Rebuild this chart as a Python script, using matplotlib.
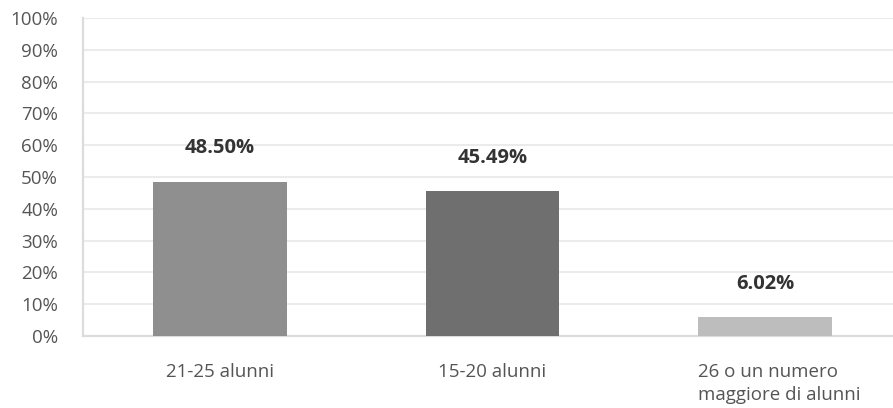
import matplotlib.pyplot as plt
from matplotlib.ticker import PercentFormatter
from matplotlib.transforms import blended_transform_factory

# ---------- Data ----------
categories = ["21-25 alunni", "15-20 alunni", "26 o un numero\nmaggiore di alunni"]
values = [48.50, 45.49, 6.02]
bar_colors = ["#8f8f8f", "#6f6f6f", "#bdbdbd"]
y_ticks = list(range(0, 101, 10))

BAR_WIDTH = 0.49

plt.rcParams["font.family"] = ["Open Sans", "DejaVu Sans"]

fig = plt.figure(figsize=(8.93, 4.08), dpi=100)
ax = fig.add_axes([83 / 893, (408 - 336) / 408, (893 - 83) / 893, (336 - 18) / 408])

x = list(range(len(categories)))
ax.bar(x, values, width=BAR_WIDTH, color=bar_colors, zorder=3)

# value labels sit a fixed distance above each bar
for xi, v in zip(x, values):
    ax.annotate(f"{v:.2f}%", (xi, v), xytext=(0, 24), textcoords="offset points",
                ha="center", va="center", fontsize=14.5, fontweight="bold",
                color="#333333")

ax.set_ylim(0, 100)
ax.set_xlim(-0.503, 2.47)
ax.set_yticks(y_ticks)
ax.yaxis.set_major_formatter(PercentFormatter(decimals=0))
ax.set_xticks(x)
ax.set_xticklabels([])

# category names: single-line ones centred, the long one starts at the bar edge
trans = blended_transform_factory(ax.transData, ax.transAxes)
for xi, name in zip(x, categories):
    if "\n" in name:
        ax.text(xi - BAR_WIDTH / 2, -0.085, name, transform=trans, ha="left",
                va="top", fontsize=13.5, color="#555555", linespacing=1.35)
    else:
        ax.text(xi, -0.085, name, transform=trans, ha="center", va="top",
                fontsize=13.5, color="#555555")

ax.grid(axis="y", color="#ebebeb", linewidth=1.5, zorder=0)
ax.tick_params(axis="both", length=0, labelsize=13.5, labelcolor="#555555")
ax.tick_params(axis="y", pad=18)

for side in ["top", "right"]:
    ax.spines[side].set_visible(False)
for side in ["left", "bottom"]:
    ax.spines[side].set_color("#dcdcdc")
    ax.spines[side].set_linewidth(1.6)

fig.savefig("out.png", dpi=100)
